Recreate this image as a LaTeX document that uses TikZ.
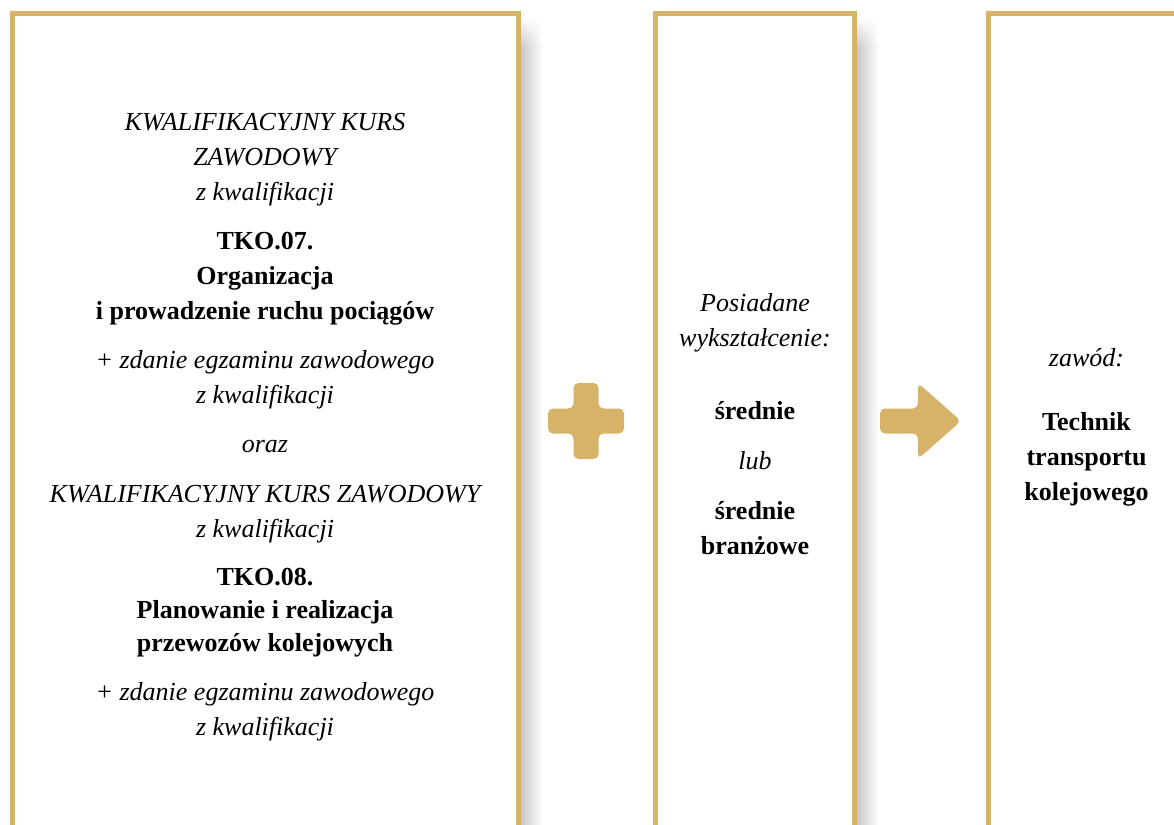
\documentclass[tikz,border=0pt]{standalone}
\usepackage{fontspec}
\setmainfont{Liberation Serif}
\usetikzlibrary{fadings}
\definecolor{gold}{RGB}{215,179,106}

\begin{document}
\begin{tikzpicture}[
  x=1pt, y=-1pt,
  every node/.style={align=center, font=\fontsize{26}{35}\selectfont},
  panel/.style={draw=gold, line width=5pt, fill=white},
  shadowbar/.style={left color=black!22, right color=white},
  ital/.style={font=\fontsize{26}{35}\selectfont\itshape},
  bold/.style={font=\fontsize{26}{35}\selectfont\bfseries},
  sign/.style={fill=gold, rounded corners=5pt}
]
  \useasboundingbox (0,0) rectangle (1174,824);
  \clip (0,0) rectangle (1174,824);
  \fill[white] (0,0) rectangle (1174,824);

  % panels with shadow on the right
  \foreach \sx in {520,856} {
    \shade[shadowbar, path fading=north] (\sx,16) rectangle (\sx+23,46);
    \shade[shadowbar] (\sx,45.5) rectangle (\sx+23,830);
  }
  \draw[panel] (12,13.5) rectangle (518,840);
  \draw[panel] (655.5,13.5) rectangle (854,840);
  \draw[panel] (988.5,13.5) rectangle (1184.5,840);

  % left panel
  \node[ital] (kkzA) at (265,160) {KWALIFIKACYJNY KURS\\ZAWODOWY\\z kwalifikacji};
  \node[bold] (tkoA) at (265,279) {TKO.07.\\Organizacja\\i prowadzenie ruchu pociągów};
  \node[ital] (egzA) at (265,380) {+ zdanie egzaminu zawodowego\\z kwalifikacji};
  \node[ital] (oraz) at (265,447) {oraz};
  \node[ital] (kkzB) at (265,514) {KWALIFIKACYJNY KURS ZAWODOWY\\z kwalifikacji};
  \node[bold, font=\fontsize{26}{33}\selectfont\bfseries] (tkoB) at (265,612.5)
    {TKO.08.\\Planowanie i realizacja\\przewozów kolejowych};
  \node[ital] (egzB) at (265,712) {+ zdanie egzaminu zawodowego\\z kwalifikacji};

  % middle panel
  \node[ital] (posiad) at (755,322.5) {Posiadane\\wykształcenie:};
  \node[bold] (sredA) at (755,411) {średnie};
  \node[ital] (lub) at (755,461) {lub};
  \node[bold] (sredB) at (755,528.5) {średnie\\branżowe};

  % right panel
  \node[ital] (zawod) at (1086.5,358) {zawód:};
  \node[bold] (technik) at (1086.5,459) {Technik\\transportu\\kolejowego};

  % plus and arrow
  \fill[sign] (573.5,383) -- (598.5,383) -- (598.5,408.5) -- (624,408.5)
    -- (624,433.5) -- (598.5,433.5) -- (598.5,459) -- (573.5,459)
    -- (573.5,433.5) -- (548,433.5) -- (548,408.5) -- (573.5,408.5) -- cycle;
  \fill[sign] (880,408.5) -- (918,408.5) -- (918,383) -- (961,421)
    -- (918,459) -- (918,433.5) -- (880,433.5) -- cycle;
\end{tikzpicture}
\end{document}
